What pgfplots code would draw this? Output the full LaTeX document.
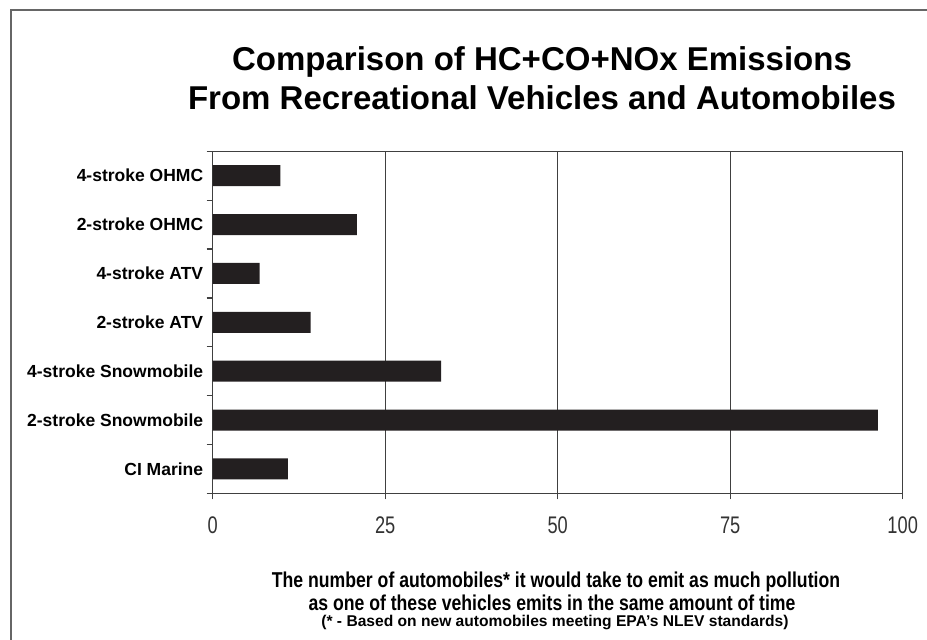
\documentclass[border=0pt]{standalone}
\usepackage{fontspec}
\setmainfont{Liberation Sans}
\newfontfamily\narrowfont{Liberation Sans}[FakeStretch=0.76]
\newfontfamily\narrowlabel{Liberation Sans}[FakeStretch=0.82]
\usepackage{pgfplots}
\pgfplotsset{compat=1.18}
\definecolor{barc}{RGB}{35,31,32}
\definecolor{linec}{RGB}{64,64,64}
\begin{document}
\begin{tikzpicture}
\path[use as bounding box] (0pt,0pt) rectangle (927pt,640pt);
\draw[line width=2pt, color=gray!80!black] (11pt,0pt) -- (11pt,630pt) -- (928pt,630pt);
\begin{axis}[
  at={(212.7pt,146.7pt)}, anchor=south west, scale only axis,
  width=690pt, height=342pt,
  xmin=0, xmax=100, ymin=-0.5, ymax=6.5,
  xtick={0,25,50,75,100},
  ytick={-0.5,0.5,...,6.5},
  yticklabels={},
  extra y ticks={0,1,2,3,4,5,6},
  extra y tick labels={CI Marine, 2-stroke Snowmobile, 4-stroke Snowmobile, 2-stroke ATV, 4-stroke ATV, 2-stroke OHMC, 4-stroke OHMC},
  extra y tick style={major tick length=0pt},
  tick pos=left, tick align=outside,
  major tick length=6pt,
  xmajorgrids,
  major grid style={linec, line width=1.3pt},
  axis line style={linec, line width=1.5pt},
  tick style={linec, line width=1.3pt},
  xticklabel style={font=\narrowfont\fontsize{24}{24}\selectfont, yshift=-14pt, text=black!80},
  yticklabel style={font=\bfseries\fontsize{17.5}{17.5}\selectfont, xshift=-6pt},
  /pgf/number format/assume math mode=true,
]
\addplot[xbar, fill=barc, draw=none, bar width=21pt] coordinates {
  (10.9,0) (96.4,1) (33.1,2) (14.2,3) (6.8,4) (20.9,5) (9.8,6)
};
\end{axis}
\node[anchor=base, font=\bfseries\fontsize{33}{33}\selectfont] at (542pt,569pt) {Comparison of HC+CO+NOx Emissions};
\node[anchor=base, font=\bfseries\fontsize{33}{33}\selectfont] at (542pt,530pt) {From Recreational Vehicles and Automobiles};
\node[anchor=base, font=\narrowlabel\bfseries\fontsize{21.5}{21.5}\selectfont] at (556pt,52pt) {The number of automobiles* it would take to emit as much pollution};
\node[anchor=base, font=\narrowlabel\bfseries\fontsize{21.5}{21.5}\selectfont] at (552pt,29pt) {as one of these vehicles emits in the same amount of time};
\node[anchor=base, font=\bfseries\fontsize{15.6}{15.6}\selectfont] at (555pt,13.5pt) {(* - Based on new automobiles meeting EPA's NLEV standards)};
\end{tikzpicture}
\end{document}
